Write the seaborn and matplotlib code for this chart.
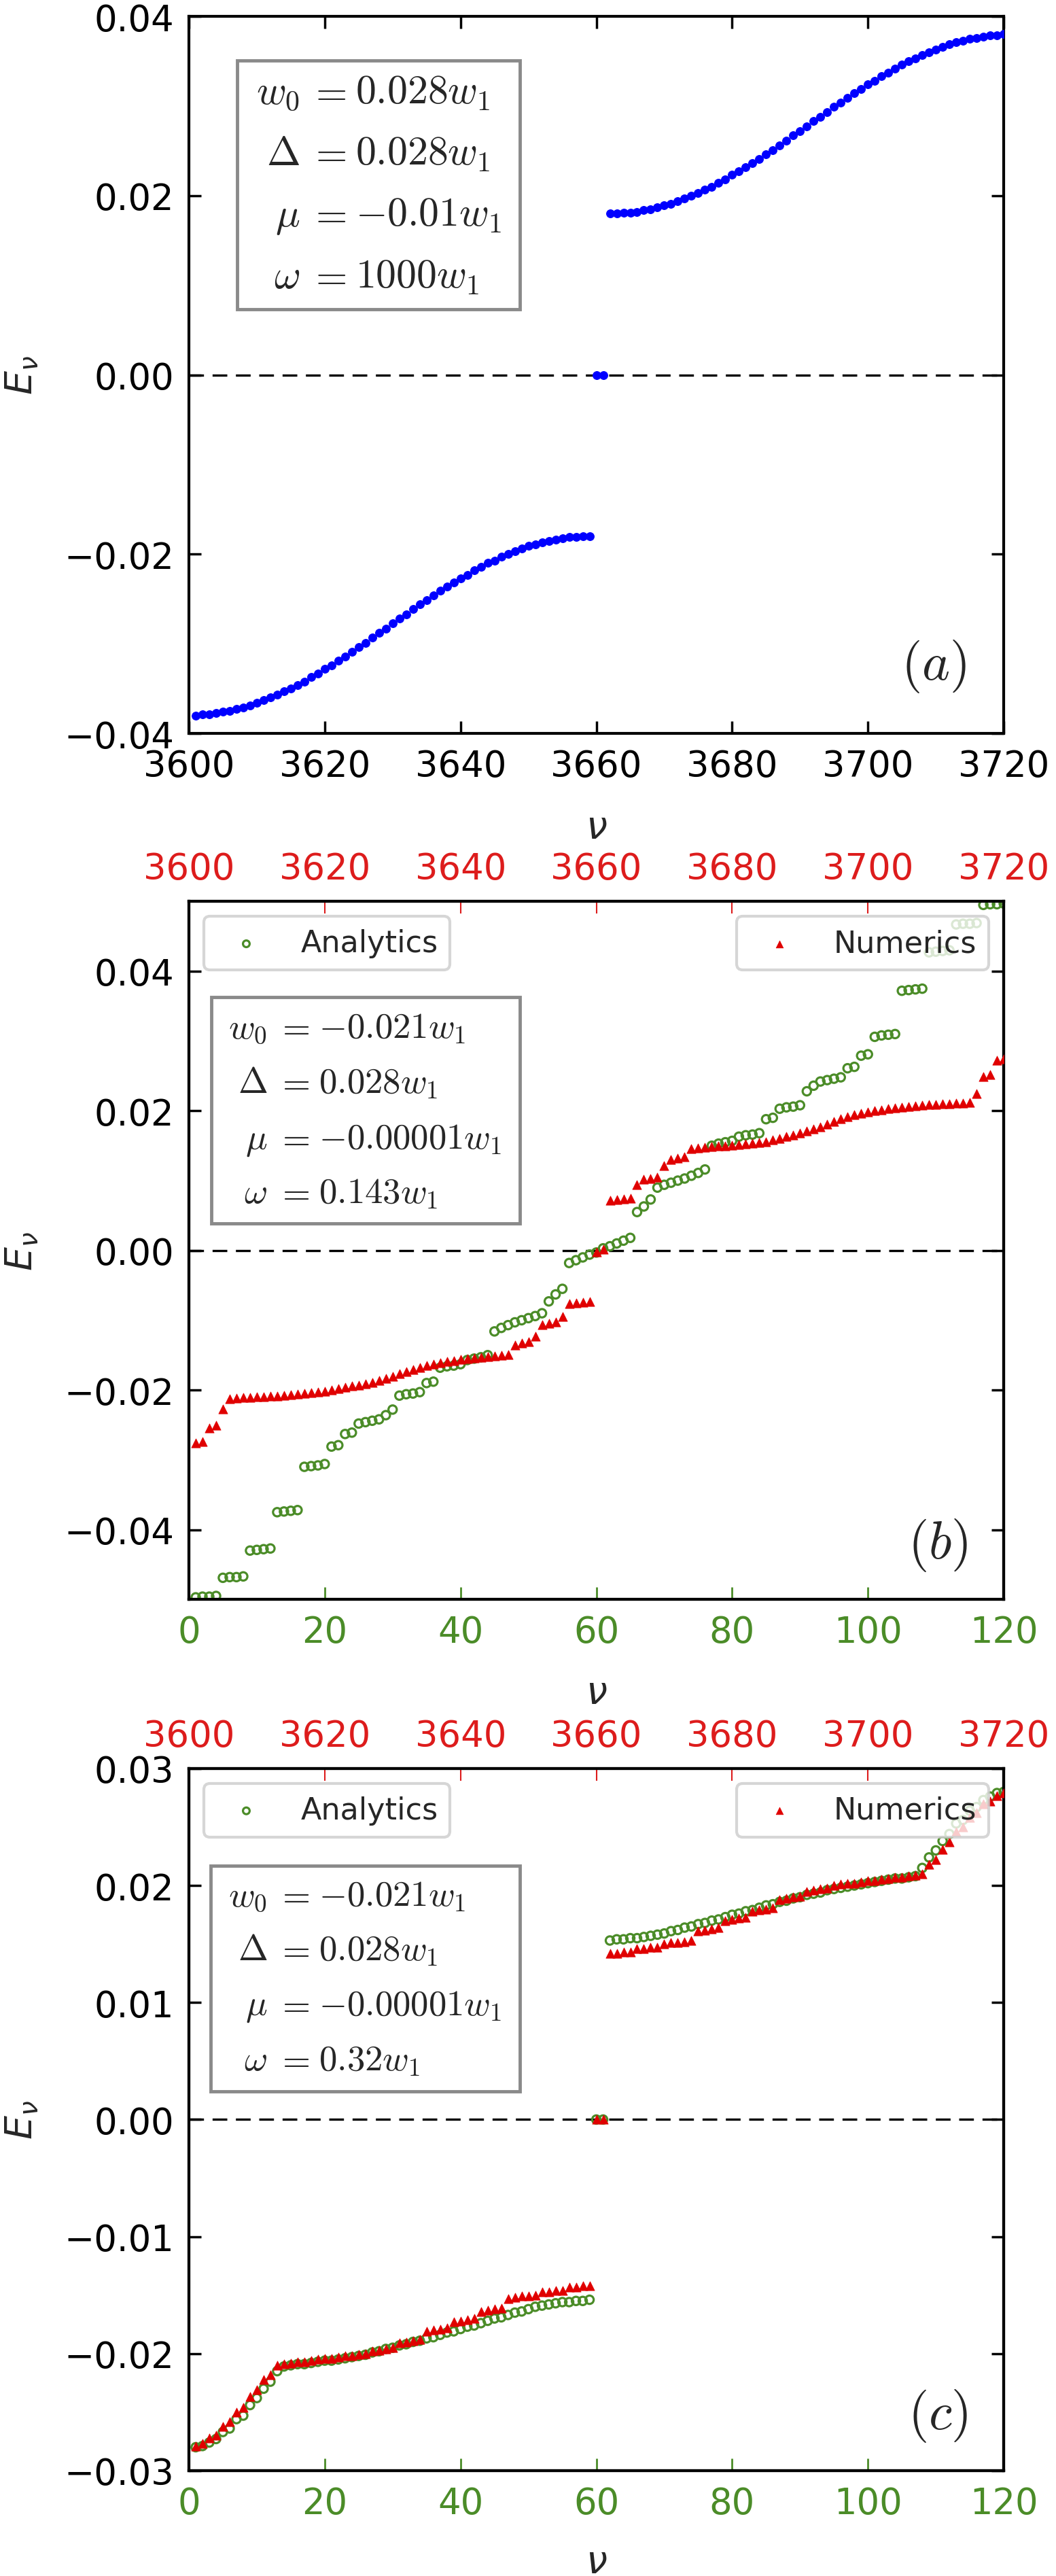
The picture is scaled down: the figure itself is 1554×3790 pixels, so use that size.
import matplotlib
matplotlib.use("Agg")
import matplotlib.pyplot as plt
import seaborn as sns
from matplotlib.patches import Rectangle

sns.set_style("ticks")
plt.rcParams["font.family"] = ["DejaVu Sans"]
plt.rcParams["mathtext.fontset"] = "dejavusans"

GREEN = "#4b8c28"
RED = "#e00000"
RED_LBL = "#dd1c1c"
BLUE = "#0000ff"

# ---------------- panel (a) : omega = 1000 w1 ----------------
nu_a = list(range(3601, 3721))
E_a = [
    -0.0380, -0.0379, -0.0379, -0.0377, -0.0376, -0.0375, -0.0373, -0.0371, -0.0369, -0.0366,
    -0.0363, -0.0360, -0.0357, -0.0353, -0.0350, -0.0346, -0.0342, -0.0337, -0.0333, -0.0328,
    -0.0324, -0.0319, -0.0314, -0.0309, -0.0304, -0.0299, -0.0293, -0.0288, -0.0283, -0.0277,
    -0.0272, -0.0267, -0.0261, -0.0256, -0.0251, -0.0246, -0.0241, -0.0236, -0.0232, -0.0227,
    -0.0223, -0.0218, -0.0214, -0.0210, -0.0207, -0.0203, -0.0200, -0.0197, -0.0194, -0.0191,
    -0.0189, -0.0187, -0.0185, -0.0184, -0.0182, -0.0181, -0.0181, -0.0180, -0.0180,
    0.0000, 0.0000,
    0.0180, 0.0180, 0.0181, 0.0181, 0.0182, 0.0184, 0.0185, 0.0187, 0.0189, 0.0191,
    0.0194, 0.0197, 0.0200, 0.0203, 0.0207, 0.0210, 0.0214, 0.0218, 0.0223, 0.0227,
    0.0232, 0.0236, 0.0241, 0.0246, 0.0251, 0.0256, 0.0261, 0.0267, 0.0272, 0.0277,
    0.0283, 0.0288, 0.0293, 0.0299, 0.0304, 0.0309, 0.0314, 0.0319, 0.0324, 0.0328,
    0.0333, 0.0337, 0.0342, 0.0346, 0.0350, 0.0353, 0.0357, 0.0360, 0.0363, 0.0366,
    0.0369, 0.0371, 0.0373, 0.0375, 0.0376, 0.0377, 0.0379, 0.0379, 0.0380,
]

# ---------------- panel (b) : omega = 0.143 w1 ----------------
n_b = list(range(1, 121))
nu_b = list(range(3601, 3721))
E_b_ana = [
    -0.0497, -0.0496, -0.0496, -0.0495,
    -0.0469, -0.0468, -0.0468, -0.0467,
    -0.0430, -0.0429, -0.0428, -0.0427,
    -0.0375, -0.0374, -0.0373, -0.0372,
    -0.0310, -0.0309, -0.0308, -0.0306,
    -0.0281, -0.0279,
    -0.0263, -0.0261,
    -0.0248, -0.0246, -0.0244, -0.0242, -0.0236, -0.0228,
    -0.0208, -0.0206, -0.0205, -0.0203,
    -0.0190, -0.0188,
    -0.0168, -0.0166, -0.0165, -0.0163,
    -0.0157, -0.0155, -0.0153, -0.0150,
    -0.0116, -0.0111, -0.0107, -0.0103, -0.0100, -0.0097, -0.0094, -0.0090,
    -0.0073, -0.0063, -0.0055,
    -0.0018,
    -0.0014, -0.0010, -0.0006, -0.0003,
    0.0003, 0.0006, 0.0010, 0.0014,
    0.0018,
    0.0055, 0.0063, 0.0073,
    0.0090, 0.0094, 0.0097, 0.0100, 0.0103, 0.0107, 0.0111, 0.0116,
    0.0150, 0.0153, 0.0155, 0.0157,
    0.0163, 0.0165, 0.0166, 0.0168,
    0.0188, 0.0190,
    0.0203, 0.0205, 0.0206, 0.0208,
    0.0228, 0.0236, 0.0242, 0.0244, 0.0246, 0.0248,
    0.0261, 0.0263,
    0.0279, 0.0281,
    0.0306, 0.0308, 0.0309, 0.0310,
    0.0372, 0.0373, 0.0374, 0.0375,
    0.0427, 0.0428, 0.0429, 0.0430,
    0.0467, 0.0468, 0.0468, 0.0469,
    0.0495, 0.0496, 0.0496, 0.0497,
]
E_b_num = [
    -0.0276, -0.0274, -0.0254, -0.0251, -0.0227, -0.0213,
    -0.0212, -0.0211, -0.0211, -0.0210, -0.0210, -0.0209, -0.0209,
    -0.0208, -0.0207, -0.0206, -0.0205, -0.0204, -0.0203, -0.0202, -0.0200, -0.0198, -0.0196, -0.0194,
    -0.0193, -0.0191, -0.0189, -0.0186, -0.0183, -0.0180, -0.0177, -0.0174, -0.0171, -0.0168, -0.0165,
    -0.0163, -0.0161, -0.0159, -0.0158, -0.0156, -0.0155, -0.0154, -0.0153, -0.0152, -0.0151, -0.0150, -0.0149,
    -0.0136, -0.0133, -0.0131,
    -0.0123,
    -0.0106, -0.0104, -0.0103,
    -0.0095,
    -0.0076, -0.0075, -0.0074, -0.0073,
    -0.0002,
    0.0002,
    0.0072, 0.0073, 0.0074, 0.0075,
    0.0094,
    0.0102, 0.0103, 0.0105,
    0.0121,
    0.0130, 0.0132, 0.0134,
    0.0146, 0.0147, 0.0148, 0.0149, 0.0150, 0.0150, 0.0151, 0.0152, 0.0153, 0.0154, 0.0155, 0.0156,
    0.0158, 0.0160, 0.0163, 0.0165, 0.0168, 0.0171, 0.0174, 0.0177, 0.0181, 0.0185, 0.0189,
    0.0192, 0.0194, 0.0196, 0.0198, 0.0200, 0.0201, 0.0203, 0.0204, 0.0205, 0.0206, 0.0207,
    0.0208, 0.0209, 0.0209, 0.0210, 0.0210, 0.0211, 0.0211,
    0.0212, 0.0225, 0.0249, 0.0252, 0.0272, 0.0274,
]

# ---------------- panel (c) : omega = 0.32 w1 ----------------
n_c = list(range(1, 121))
nu_c = list(range(3601, 3721))
E_c_ana = [
    -0.0280, -0.0279, -0.0276, -0.0273, -0.0267, -0.0264, -0.0256, -0.0253, -0.0244, -0.0238, -0.0230, -0.0224, -0.0215,
    -0.0211, -0.0210, -0.0209, -0.0209, -0.0208, -0.0207, -0.0206, -0.0206, -0.0205, -0.0204, -0.0203, -0.0202, -0.0201,
    -0.0199, -0.0198, -0.0196, -0.0195, -0.0193, -0.0192, -0.0190, -0.0189, -0.0187,
    -0.0186, -0.0184, -0.0182, -0.0181, -0.0179, -0.0177, -0.0176, -0.0174,
    -0.0172, -0.0170, -0.0169, -0.0167, -0.0165, -0.0164, -0.0162, -0.0160, -0.0159,
    -0.0158, -0.0157, -0.0156, -0.0156, -0.0155, -0.0155, -0.0154,
    0.0000,
    0.0000,
    0.0153, 0.0154, 0.0154, 0.0155, 0.0155, 0.0156, 0.0157,
    0.0158, 0.0159, 0.0161, 0.0162, 0.0164, 0.0165, 0.0167, 0.0168, 0.0170,
    0.0171, 0.0173, 0.0175, 0.0176, 0.0178, 0.0179, 0.0181, 0.0183,
    0.0184, 0.0186, 0.0187, 0.0189, 0.0190, 0.0192, 0.0193, 0.0194, 0.0196,
    0.0197, 0.0198, 0.0199, 0.0200, 0.0201, 0.0202, 0.0203, 0.0204, 0.0205, 0.0206, 0.0206, 0.0207, 0.0208,
    0.0215, 0.0224, 0.0230, 0.0238, 0.0244, 0.0253, 0.0256, 0.0264, 0.0267, 0.0273, 0.0276, 0.0279, 0.0280,
]
E_c_num = [
    -0.0279, -0.0277, -0.0272, -0.0270, -0.0262, -0.0258, -0.0250, -0.0246, -0.0237, -0.0231, -0.0222, -0.0218,
    -0.0210, -0.0209, -0.0208, -0.0207, -0.0207, -0.0206, -0.0205,
    -0.0204, -0.0204, -0.0203, -0.0202, -0.0202, -0.0201, -0.0200,
    -0.0198, -0.0197, -0.0196, -0.0195,
    -0.0191, -0.0190, -0.0189, -0.0188,
    -0.0181, -0.0180, -0.0179, -0.0178,
    -0.0173, -0.0172, -0.0171, -0.0170,
    -0.0164, -0.0163, -0.0162, -0.0161,
    -0.0153, -0.0152, -0.0151, -0.0151, -0.0150,
    -0.0147, -0.0147, -0.0146, -0.0146,
    -0.0143, -0.0143, -0.0142, -0.0142,
    0.0000,
    0.0000,
    0.0142, 0.0142, 0.0143, 0.0143,
    0.0146, 0.0146, 0.0147, 0.0147,
    0.0150, 0.0151, 0.0151, 0.0152, 0.0153,
    0.0161, 0.0162, 0.0163, 0.0164,
    0.0170, 0.0171, 0.0172, 0.0173,
    0.0178, 0.0179, 0.0180, 0.0181,
    0.0188, 0.0189, 0.0190, 0.0191,
    0.0195, 0.0196, 0.0197, 0.0198,
    0.0200, 0.0201, 0.0202, 0.0202, 0.0203, 0.0204, 0.0204,
    0.0205, 0.0206, 0.0207, 0.0207, 0.0208, 0.0209, 0.0210,
    0.0218, 0.0222, 0.0231, 0.0237, 0.0246, 0.0250, 0.0258, 0.0262, 0.0270, 0.0272, 0.0277, 0.0279,
]

lhs = [r"$w_0$", r"$\Delta$", r"$\mu$", r"$\omega$"]
rhs_a = [r"$0.028w_1$", r"$0.028w_1$", r"$-0.01w_1$", r"$1000w_1$"]
rhs_b = [r"$-0.021w_1$", r"$0.028w_1$", r"$-0.00001w_1$", r"$0.143w_1$"]
rhs_c = [r"$-0.021w_1$", r"$0.028w_1$", r"$-0.00001w_1$", r"$0.32w_1$"]

TICK_FS = 38
LABEL_FS = 40


def frame(ax):
    for s in ax.spines.values():
        s.set_linewidth(3)
        s.set_color("black")


def param_box(ax, box, x_eq, gap, baselines, rhs, size):
    x0, y0, x1, y1 = box
    ax.add_patch(Rectangle((x0, y0), x1 - x0, y1 - y0, transform=ax.transAxes,
                           fc="white", ec="#8a8a8a", lw=3.5, zorder=6))
    for yb, l, r in zip(baselines, lhs, rhs):
        kw = dict(transform=ax.transAxes, fontsize=size, math_fontfamily="cm",
                  va="baseline", zorder=7)
        ax.text(x_eq - gap, yb, l, ha="right", **kw)
        ax.text(x_eq, yb, r"$=$", ha="center", **kw)
        ax.text(x_eq + gap, yb, r, ha="left", **kw)


def zero_line(ax):
    ax.axhline(0, color="black", lw=2.4, ls=(0, (6.5, 3.8)), zorder=1)


fig = plt.figure(figsize=(15.54, 37.91), dpi=100)
L, W = 0.1789, 0.7716
axa = fig.add_axes([L, 0.7151, W, 0.2783])
axb = fig.add_axes([L, 0.3790, W, 0.2709])
axc = fig.add_axes([L, 0.0409, W, 0.2725])

# ---- panel (a)
zero_line(axa)
sns.scatterplot(x=nu_a, y=E_a, ax=axa, color=BLUE, edgecolor=BLUE, s=72,
                linewidth=0.8, marker="o", zorder=3)
axa.set_xlim(3600, 3720)
axa.set_ylim(-0.04, 0.04)
axa.set_xticks(range(3600, 3721, 20))
axa.set_yticks([-0.04, -0.02, 0.0, 0.02, 0.04])
axa.tick_params(direction="in", length=13, width=2.5, labelsize=TICK_FS, pad=16,
                top=True, right=True, colors="black")
frame(axa)
axa.set_xlabel(r"$\nu$", fontsize=LABEL_FS)
axa.set_ylabel(r"$E_\nu$", fontsize=LABEL_FS)
axa.xaxis.set_label_coords(0.5, -0.106)
axa.yaxis.set_label_coords(-0.183, 0.5)
param_box(axa, (0.0592, 0.5915, 0.406, 0.938), 0.170, 0.034,
          [0.8787, 0.7934, 0.7081, 0.6218], rhs_a, 43)
axa.text(0.914, 0.0758, r"$(a)$", transform=axa.transAxes, fontsize=56,
         math_fontfamily="cm", ha="center", va="baseline")


def two_axis_panel(ax, n, E_ana, nu, E_num, ylim, yticks, box, baselines, rhs, tag,
                   xlab_y):
    zero_line(ax)
    sns.scatterplot(x=n, y=E_ana, ax=ax, marker="o", s=78, facecolor="none",
                    edgecolor=GREEN, linewidth=2.3, label="Analytics", zorder=3)
    ax2 = ax.twiny()
    sns.scatterplot(x=nu, y=E_num, ax=ax2, marker="^", s=92, color=RED,
                    edgecolor=RED, linewidth=0.5, label="Numerics", zorder=3)
    ax.set_xlim(0, 120)
    ax2.set_xlim(3600, 3720)
    ax.set_ylim(*ylim)
    ax.set_xticks(range(0, 121, 20))
    ax2.set_xticks(range(3600, 3721, 20))
    ax.set_yticks(yticks)
    ax.tick_params(axis="x", direction="in", length=13, width=2, labelsize=TICK_FS,
                   pad=16, colors=GREEN, bottom=True, top=False)
    ax.tick_params(axis="y", direction="in", length=13, width=2.5, labelsize=TICK_FS,
                   pad=16, colors="black", left=True, right=True)
    ax2.tick_params(axis="x", direction="in", length=13, width=1.5, labelsize=TICK_FS,
                    pad=16, colors=RED_LBL, top=True, bottom=False)
    frame(ax)
    frame(ax2)
    ax2.set_xlabel("")
    ax.set_xlabel(r"$\nu$", fontsize=LABEL_FS)
    ax.set_ylabel(r"$E_\nu$", fontsize=LABEL_FS)
    ax.xaxis.set_label_coords(0.5, xlab_y)
    ax.yaxis.set_label_coords(-0.183, 0.5)
    leg_kw = dict(fontsize=32, markerscale=0.8, framealpha=0.8, edgecolor="#cccccc")
    lg1 = ax.legend(loc="upper left", **leg_kw)
    lg1.get_frame().set_linewidth(3)
    lg1.set_zorder(8)
    lg2 = ax2.legend(loc="upper right", **leg_kw)
    lg2.get_frame().set_linewidth(3)
    param_box(ax, box, 0.1276, 0.0317, baselines, rhs, 38)
    ax.text(0.919, 0.060, tag, transform=ax.transAxes, fontsize=56,
            math_fontfamily="cm", ha="center", va="baseline")


two_axis_panel(axb, n_b, E_b_ana, nu_b, E_b_num, (-0.05, 0.05),
               [-0.04, -0.02, 0.0, 0.02, 0.04], (0.0275, 0.5385, 0.406, 0.8627),
               [0.8053, 0.7264, 0.6465, 0.5686], rhs_b, r"$(b)$", -0.108)
two_axis_panel(axc, n_c, E_c_ana, nu_c, E_c_num, (-0.03, 0.03),
               [-0.03, -0.02, -0.01, 0.0, 0.01, 0.02, 0.03], (0.0267, 0.540, 0.406, 0.8616),
               [0.8054, 0.7280, 0.6496, 0.5712], rhs_c, r"$(c)$", -0.105)

fig.savefig("out.png", dpi=100)
